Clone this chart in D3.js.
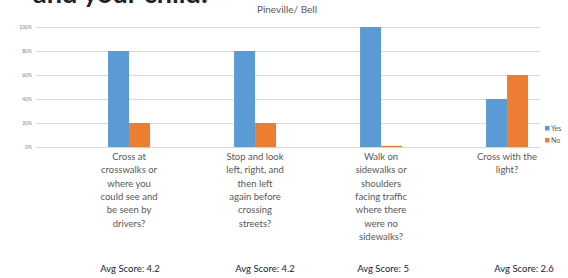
<!DOCTYPE html>
<html>
<head>
<meta charset="utf-8">
<script src="https://cdn.jsdelivr.net/npm/d3@7"></script>
<style>
  body { margin: 0; background: #fff; }
  svg { display: block; font-family: Lato, "Open Sans", sans-serif; }
</style>
</head>
<body>
<div id="wrap"></div>
<script>
//  Chart values
const categories = ["walk1", "stop", "walk", "light"];
const labelLines = [
  ["Cross at", "crosswalks or", "where you", "could see and", "be seen by", "drivers?"],
  ["Stop and look", "left, right, and", "then left", "again before", "crossing", "streets?"],
  ["Walk on", "sidewalks or", "shoulders", "facing traffic", "where there", "were no", "sidewalks?"],
  ["Cross with the", "light?"],
];
const series = ["Yes", "No"];
const yesValues = [80, 80, 100, 40];
const noValues = [20, 20, 1, 60];
const avgScores = ["Avg Score: 4.2", "Avg Score: 4.2", "Avg Score: 5", "Avg Score: 2.6"];
const yTicks = [0, 20, 40, 60, 80, 100];

const colors = { Yes: "#5b9bd5", No: "#ed7d31" };
const scoreNudge = [1, 10, 2, 17];

const W = 568, H = 278;
const svg = d3.select("#wrap").append("svg").attr("width", W).attr("height", H);

//  slide heading, mostly cut off at the top
svg.append("text")
  .attr("x", 33).attr("y", 3)
  .attr("font-size", 27).attr("font-weight", "bold")
  .attr("fill", "#1c2230")
  .text("and your child:");

svg.append("text")
  .attr("x", 287).attr("y", 13)
  .attr("text-anchor", "middle")
  .attr("font-size", 10).attr("fill", "#595959")
  .text("Pineville/ Bell");

const x = d3.scaleBand().domain(categories).range([36, 540]);
const y = d3.scaleLinear().domain([0, 100]).range([147, 27]);
const bw = x.bandwidth();
const x1 = d3.scaleBand().domain(series).range([bw * 0.572, bw * 0.905]);

//  gridlines + tick labels
const yAxis = svg.append("g")
  .attr("transform", "translate(36,0)")
  .call(d3.axisLeft(y).tickValues(yTicks).tickSize(-504).tickFormat(d => d + "%"));
yAxis.select(".domain").remove();
yAxis.selectAll(".tick line").attr("stroke", "#d9d9d9").attr("stroke-width", 1.2);
yAxis.selectAll(".tick text")
  .attr("x", -4).attr("font-size", 5).attr("fill", "#7f7f7f")
  .attr("font-family", "Lato, sans-serif");

const rows = categories.map((c, i) => ({ c, i, Yes: yesValues[i], No: noValues[i] }));

const groups = svg.selectAll(".grp").data(rows).enter().append("g")
  .attr("class", "grp")
  .attr("transform", d => "translate(" + x(d.c) + ",0)");

groups.selectAll("rect")
  .data(d => series.map(s => ({ s, v: d[s] })))
  .enter().append("rect")
  .attr("x", d => x1(d.s))
  .attr("width", x1.bandwidth())
  .attr("y", d => y(d.v))
  .attr("height", d => y(0) - y(d.v))
  .attr("fill", d => colors[d.s]);

//  category labels, centred under each pair of bars
const labelX = bw * 0.7385;
groups.append("text")
  .attr("text-anchor", "middle")
  .attr("font-size", 9.5).attr("fill", "#595959")
  .selectAll("tspan")
  .data(d => labelLines[d.i])
  .enter().append("tspan")
  .attr("x", labelX)
  .attr("y", (d, j) => 160 + j * 13.3)
  .text(d => d);

groups.append("text")
  .attr("x", d => labelX + scoreNudge[d.i])
  .attr("y", 272)
  .attr("text-anchor", "middle")
  .attr("font-size", 9.5).attr("fill", "#1c2230")
  .text(d => avgScores[d.i]);

//  legend
const legend = svg.selectAll(".leg").data(series).enter().append("g")
  .attr("transform", (d, i) => "translate(545," + (126 + i * 12) + ")");
legend.append("rect").attr("width", 4.5).attr("height", 4.5).attr("fill", d => colors[d]);
legend.append("text").attr("x", 6).attr("y", 5)
  .attr("font-size", 7).attr("fill", "#595959").text(d => d);
</script>
</body>
</html>
